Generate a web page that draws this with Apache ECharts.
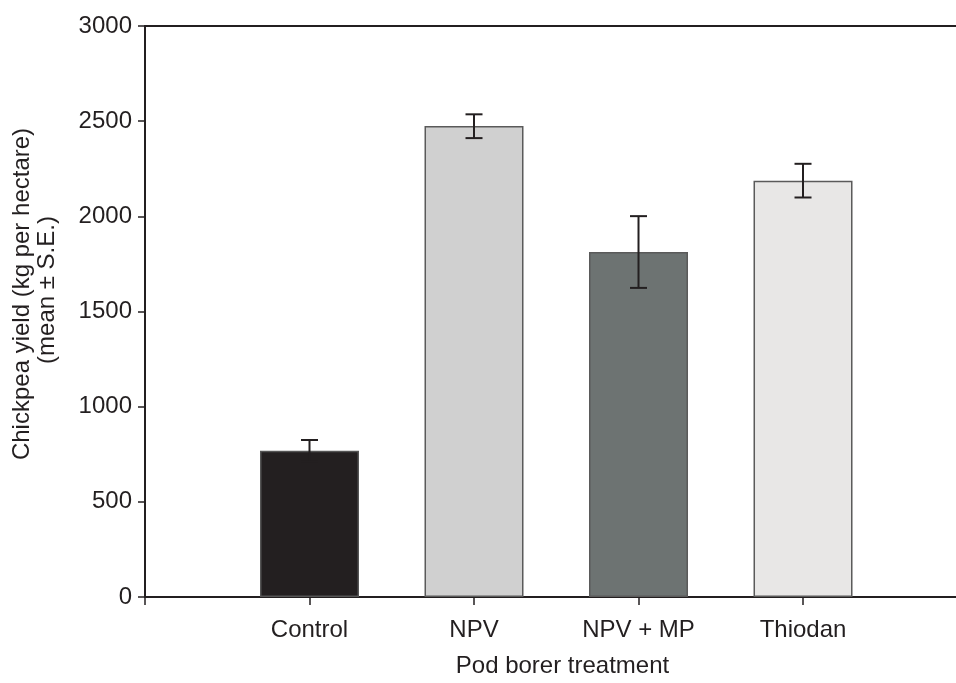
<!DOCTYPE html>
<html>
<head>
<meta charset="utf-8">
<script src="https://cdn.jsdelivr.net/npm/echarts@6/dist/echarts.min.js"></script>
<style>html,body{margin:0;padding:0;background:#fff}#c{width:956px;height:683px}</style>
</head>
<body>
<div id="c"></div>
<script>
var categories = ['Control', 'NPV', 'NPV + MP', 'Thiodan'];
var means = [768, 2474, 1812, 2187];
var seLow = [711, 2411, 1624, 2099];
var seHigh = [825, 2536, 2001, 2276];
var yTicks = [0, 500, 1000, 1500, 2000, 2500, 3000];
var barColors = ['#231f20', '#d0d0d0', '#6d7372', '#e8e7e6'];

var FONT = 'Liberation Sans, Arial, sans-serif';
var INK = '#231f20';
var FS = 24;
var chart = echarts.init(document.getElementById('c'), null, {renderer: 'canvas'});

var barData = means.map(function (v, i) {
  return {value: [i + 1, v], itemStyle: {color: barColors[i], borderColor: i === 0 ? '#555' : '#5a5a5a'}};
});
var errData = means.map(function (v, i) { return [i + 1, seLow[i], seHigh[i]]; });

chart.setOption({
  animation: false,
  backgroundColor: '#fff',
  grid: {left: 145, right: 0, top: 26, bottom: 82, containLabel: false},
  xAxis: [{
    type: 'value', min: 0, max: 4.93, interval: 1,
    axisLine: {show: true, lineStyle: {color: INK, width: 2}},
    axisTick: {show: true, length: 8, lineStyle: {color: INK, width: 1.5}},
    splitLine: {show: false},
    axisLabel: {
      showMaxLabel: false, margin: 21, color: INK, fontSize: FS, fontFamily: FONT,
      formatter: function (v) { var i = Math.round(v) - 1; return (i >= 0 && i < categories.length && Math.abs(v - Math.round(v)) < 1e-6) ? categories[i] : ''; }
    },
    name: 'Pod borer treatment', nameLocation: 'middle', nameGap: 57,
    nameTextStyle: {color: INK, fontSize: FS, fontFamily: FONT, padding: [0, 0, 0, 24]}
  }, {
    type: 'value', position: 'top', min: 0, max: 4.93,
    axisLine: {show: true, onZero: false, lineStyle: {color: INK, width: 2}},
    axisTick: {show: false}, axisLabel: {show: false}, splitLine: {show: false}
  }],
  yAxis: {
    type: 'value', min: yTicks[0], max: yTicks[yTicks.length - 1], interval: yTicks[1] - yTicks[0],
    axisLine: {show: true, lineStyle: {color: INK, width: 2}},
    axisTick: {show: true, length: 7, lineStyle: {color: INK, width: 1.5}},
    splitLine: {show: false},
    axisLabel: {margin: 13, color: INK, fontSize: FS, fontFamily: FONT, formatter: function (v) { return String(v); }}
  },
  graphic: [{
    type: 'text', x: 22, y: 294, rotation: Math.PI / 2,
    style: {text: 'Chickpea yield (kg per hectare)', fill: INK, font: FS + 'px ' + FONT, textAlign: 'center', textVerticalAlign: 'middle'}
  }, {
    type: 'text', x: 47, y: 290, rotation: Math.PI / 2,
    style: {text: '(mean ± S.E.)', fill: INK, font: FS + 'px ' + FONT, textAlign: 'center', textVerticalAlign: 'middle'}
  }],
  series: [{
    type: 'bar', data: barData, barWidth: 99, z: 2,
    itemStyle: {borderWidth: 1.5}
  }, {
    type: 'custom', data: errData, z: 5,
    renderItem: function (params, api) {
      var x = api.value(0);
      var lo = api.coord([x, api.value(1)]);
      var hi = api.coord([x, api.value(2)]);
      var hw = 8.5;
      var st = {stroke: INK, lineWidth: 2};
      return {type: 'group', children: [
        {type: 'line', shape: {x1: lo[0], y1: lo[1], x2: hi[0], y2: hi[1]}, style: st},
        {type: 'line', shape: {x1: hi[0] - hw, y1: hi[1], x2: hi[0] + hw, y2: hi[1]}, style: st},
        {type: 'line', shape: {x1: lo[0] - hw, y1: lo[1], x2: lo[0] + hw, y2: lo[1]}, style: st}
      ]};
    }
  }]
});
</script>
</body>
</html>
